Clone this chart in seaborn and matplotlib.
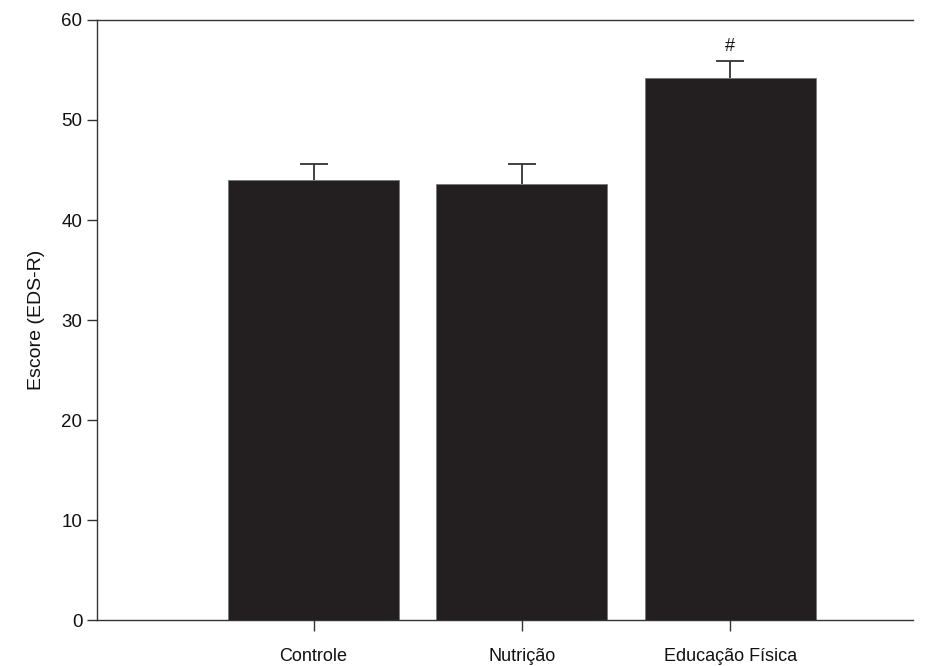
import numpy as np
import pandas as pd
import matplotlib
matplotlib.use("Agg")
import matplotlib.pyplot as plt
import seaborn as sns

# data
groups = ["Controle", "Nutrição", "Educação Física"]
means = [44.0, 43.6, 54.2]
errors = [1.6, 2.0, 1.7]
marks = ["", "", "#"]

sns.set_style("ticks")
plt.rcParams['font.family'] = ['Liberation Sans', 'DejaVu Sans']

df = pd.DataFrame({"grupo": groups, "escore": means})

fig = plt.figure(figsize=(9.33, 6.66), dpi=100)
ax = fig.add_axes([0.104, 0.069, 0.875, 0.901])

sns.barplot(data=df, x="grupo", y="escore", color="#231f20", width=0.82,
            errorbar=None, edgecolor="#777777", linewidth=0.6, ax=ax, saturation=1)

xs = np.arange(len(groups))
_, caps, _ = ax.errorbar(xs, means, yerr=[np.zeros(len(errors)), errors], fmt="none",
                         ecolor="#333333", elinewidth=1.3, capsize=10, capthick=1.3, zorder=3)
# only the upper half of each error bar is shown
caps[0].set_visible(False)

for x, m, e, t in zip(xs, means, errors, marks):
    if t:
        ax.text(x, m + e + 0.6, t, ha="center", va="bottom", fontsize=13, color="#111111")

ax.set_xlim(-1.04, 2.88)
ax.set_ylim(0, 60)
ax.set_yticks(range(0, 61, 10))
ax.set_xlabel("")
ax.set_ylabel("Escore (EDS-R)", fontsize=14, labelpad=12, color="#111111")
ax.tick_params(axis="y", labelsize=13.5, length=7, width=1, color="#333333", labelcolor="#111111")
ax.tick_params(axis="x", labelsize=13, length=8, width=1, pad=12, color="#333333", labelcolor="#111111")

for s in ["left", "bottom", "top"]:
    ax.spines[s].set_color("#333333")
    ax.spines[s].set_linewidth(1)
ax.spines["right"].set_visible(False)

fig.savefig("out.png", dpi=100)
